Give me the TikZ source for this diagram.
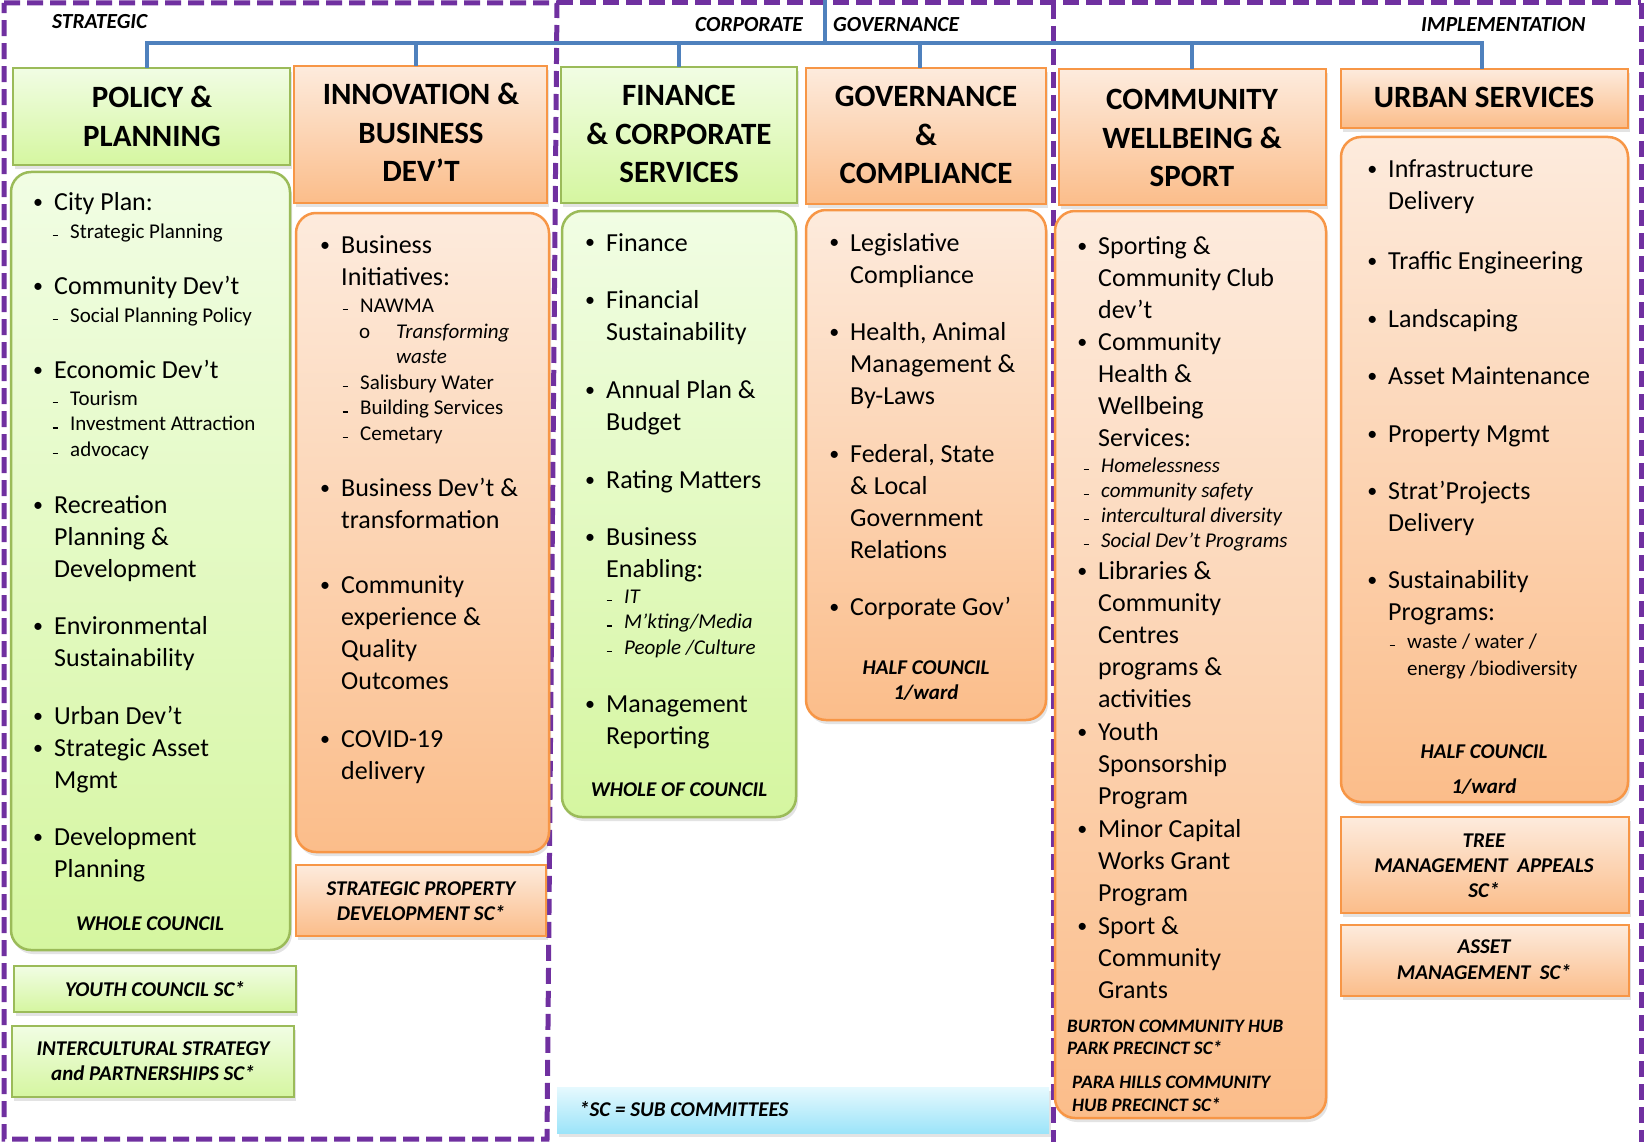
\documentclass[tikz,border=0pt]{standalone}
\usepackage{fontspec}
\setmainfont{Carlito}
\usetikzlibrary{shadows}

\definecolor{purp}{HTML}{7030A0}
\definecolor{busblue}{HTML}{4F81BD}
\definecolor{gT}{RGB}{241,253,228}
\definecolor{gB}{RGB}{213,246,160}
\definecolor{gL}{HTML}{9BBB59}
\definecolor{oT}{RGB}{253,235,221}
\definecolor{oB}{RGB}{251,189,138}
\definecolor{oL}{HTML}{F79646}
\definecolor{bT}{RGB}{230,249,254}
\definecolor{bB}{RGB}{156,228,249}

\newcommand\HdFont{\fontsize{31}{38.5}\selectfont\bfseries}
\newcommand\BdFont{\fontsize{26}{32}\selectfont}
\newcommand\SbFont{\fontsize{21}{25.7}\selectfont}
\newcommand\LbFont{\fontsize{21}{25}\selectfont\bfseries\itshape}
\newcommand\TL[1]{\begin{tabular}[t]{@{}l@{}}#1\end{tabular}}
\newcommand\TC[1]{\begin{tabular}[t]{@{}c@{}}#1\end{tabular}}
\newcommand\Bu{\llap{\raisebox{2pt}{\fontsize{20}{20}\selectfont\textbullet}\hspace{11pt}}}
\newcommand\Da{\llap{\raisebox{2pt}{\rule{5.5pt}{1.4pt}}\hspace{12pt}}}
\newcommand\MkBox[6]{\node[#1, minimum width={(#5-#3)*1pt}, minimum height={(#6-#4)*1pt}] (#2) at (#3,#4) {};}

\tikzset{
  boxbase/.style={anchor=north west, inner sep=0pt, outer sep=0pt, line width=2.5pt,
    drop shadow={opacity=0.22, shadow xshift=2pt, shadow yshift=-4pt}},
  gbox/.style={boxbase, draw=gL, top color=gT, bottom color=gB},
  obox/.style={boxbase, draw=oL, top color=oT, bottom color=oB},
  lbox/.style={boxbase, draw=none, top color=bT, bottom color=bB},
  rnd/.style={rounded corners=20pt},
  frame/.style={draw=purp, line width=5pt, dash pattern=on 16pt off 7pt},
  bus/.style={draw=busblue, line width=4.5pt},
  hd/.style={anchor=base, inner sep=0pt, font=\HdFont},
  bd/.style={anchor=base west, inner sep=0pt, font=\BdFont},
  sb/.style={anchor=base west, inner sep=0pt, font=\SbFont},
  lb/.style={anchor=base, inner sep=0pt, font=\LbFont},
  fr/.style={anchor=base west, inner sep=0pt, font=\fontsize{21.5}{24}\selectfont\bfseries\itshape},
}

\begin{document}
\begin{tikzpicture}[x=1pt,y=-1pt]
\useasboundingbox (0,0) rectangle (1645,1142);
\fill[white] (0,0) rectangle (1645,1142);

% ---- dashed frames ----
\draw[frame] (4,3) -- (557,3) -- (547,1139) -- (4,1139) -- cycle;
\draw[frame] (557,3) -- (1641,3);
\draw[frame] (1053,3) -- (1053,1142);
\draw[frame] (1641,3) -- (1641,1142);

\node[fr] (lStrat) at (52,29) {STRATEGIC};
\node[fr] (lCorp) at (695,32) {CORPORATE};
\node[fr] (lGov) at (833,32) {GOVERNANCE};
\node[fr] (lImpl) at (1421,32) {IMPLEMENTATION};

% ---- header boxes ----
\MkBox{gbox}{hpB}{13}{68}{290}{165}
\MkBox{obox}{hiB}{294}{66}{547}{203}
\MkBox{gbox}{hfB}{561}{67}{797}{203}
\MkBox{obox}{hgB}{806}{68}{1046}{204}
\MkBox{obox}{hcB}{1059}{69}{1326}{205}
\MkBox{obox}{huB}{1341}{69}{1628}{128}

% ---- body boxes ----
\MkBox{gbox,rnd}{pB}{11}{172}{290}{950}
\MkBox{obox,rnd}{iB}{296}{213}{549}{852}
\MkBox{gbox,rnd}{fB}{562}{211}{796}{817}
\MkBox{obox,rnd}{gBx}{806}{210}{1046}{720}
\MkBox{obox,rnd}{cB}{1055}{211}{1326}{1118}
\MkBox{obox,rnd}{uB}{1341}{137}{1628}{802}

% ---- sub-committee boxes ----
\MkBox{obox}{spB}{296}{865}{546}{936}
\MkBox{gbox}{ycB}{14}{966}{296}{1012}
\MkBox{gbox}{isB}{12}{1026}{294}{1097}
\MkBox{obox}{tmB}{1341}{817}{1629}{913}
\MkBox{obox}{amB}{1341}{925}{1629}{996}
\MkBox{lbox}{lgB}{557}{1087}{1049}{1133}

% ---- connector bus ----
\coordinate (busTop) at (825,0);
\coordinate (busJ) at (825,43);
\coordinate (t1) at (147,43);
\coordinate (t2) at (416,43);
\coordinate (t3) at (679,43);
\coordinate (t4) at (920,43);
\coordinate (t5) at (1192,43);
\coordinate (t6) at (1482,43);
\draw[bus] (busTop) -- (busJ);
\draw[bus] (t1 |- hpB.north) -- (t1) -- (t6) -- (t6 |- huB.north);
\draw[bus] (t2) -- (t2 |- hiB.north);
\draw[bus] (t3) -- (t3 |- hfB.north);
\draw[bus] (t4) -- (t4 |- hgB.north);
\draw[bus] (t5) -- (t5 |- hcB.north);

% ---- header texts ----
\node[hd] (hpT) at (152,108) {\TC{POLICY \&\\PLANNING}};
\node[hd] (hiT) at (421,105) {\TC{INNOVATION \&\\BUSINESS\\DEV’T}};
\node[hd] (hfT) at (679,106) {\TC{FINANCE\\\& CORPORATE\\SERVICES}};
\node[hd] (hgT) at (926,107) {\TC{GOVERNANCE\\\&\\COMPLIANCE}};
\node[hd] (hcT) at (1192,110) {\TC{COMMUNITY\\WELLBEING \&\\SPORT}};
\node[hd] (huT) at (1484,108) {URBAN SERVICES};

% ---- Policy & Planning ----
\node[bd] (p1) at (54,211) {\Bu\TL{City Plan:}};
\node[sb] (p1s) at (70,238) {\TL{\Da Strategic Planning}};
\node[bd] (p2) at (54,294) {\Bu\TL{Community Dev’t}};
\node[sb] (p2s) at (70,322) {\TL{\Da Social Planning Policy}};
\node[bd] (p3) at (54,378) {\Bu\TL{Economic Dev’t}};
\node[sb] (p3s) at (70,405) {\TL{\Da Tourism\\\Da Investment Attraction\\\Da advocacy}};
\node[bd] (p4) at (54,513) {\Bu\TL{Recreation\\Planning \&\\Development}};
\node[bd] (p5) at (54,634) {\Bu\TL{Environmental\\Sustainability}};
\node[bd] (p6) at (54,724) {\Bu\TL{Urban Dev’t}};
\node[bd] (p7) at (54,756) {\Bu\TL{Strategic Asset\\Mgmt}};
\node[bd] (p8) at (54,845) {\Bu\TL{Development\\Planning}};
\node[lb] (pW) at (150,930) {WHOLE COUNCIL};
\node[lb] (ycT) at (155,996) {YOUTH COUNCIL SC*};
\node[lb] (isT) at (153,1055) {\TC{INTERCULTURAL STRATEGY\\and PARTNERSHIPS SC*}};

% ---- Innovation & Business Dev't ----
\node[bd] (i1) at (341,253) {\Bu\TL{Business\\Initiatives:}};
\node[sb] (i1s) at (360,312) {\TL{\Da NAWMA}};
\node[sb] (i1o) at (396,338) {\TL{\llap{o\hspace{26pt}}\itshape Transforming\\\itshape waste}};
\node[sb] (i1t) at (360,389) {\TL{\Da Salisbury Water\\\Da Building Services\\\Da Cemetary}};
\node[bd] (i2) at (341,496) {\Bu\TL{Business Dev’t \&\\transformation}};
\node[bd] (i3) at (341,593) {\Bu\TL{Community\\experience \&\\Quality\\Outcomes}};
\node[bd] (i4) at (341,747) {\Bu\TL{COVID-19\\delivery}};
\node[lb] (spT) at (421,895) {\TC{STRATEGIC PROPERTY\\DEVELOPMENT SC*}};

% ---- Finance & Corporate Services ----
\node[bd] (f1) at (606,251) {\Bu\TL{Finance}};
\node[bd] (f2) at (606,308) {\Bu\TL{Financial\\Sustainability}};
\node[bd] (f3) at (606,398) {\Bu\TL{Annual Plan \&\\Budget}};
\node[bd] (f4) at (606,488) {\Bu\TL{Rating Matters}};
\node[bd] (f5) at (606,545) {\Bu\TL{Business\\Enabling:}};
\node[sb] (f5s) at (624,603) {\TL{\Da\itshape IT\\\Da\itshape M’kting/Media\\\Da\itshape People /Culture}};
\node[bd] (f6) at (606,712) {\Bu\TL{Management\\Reporting}};
\node[lb] (fW) at (679,796) {WHOLE OF COUNCIL};

% ---- Governance & Compliance ----
\node[bd] (g1) at (850,251) {\Bu\TL{Legislative\\Compliance}};
\node[bd] (g2) at (850,340) {\Bu\TL{Health, Animal\\Management \&\\By-Laws}};
\node[bd] (g3) at (850,462) {\Bu\TL{Federal, State\\\& Local\\Government\\Relations}};
\node[bd] (g4) at (850,615) {\Bu\TL{Corporate Gov’}};
\node[lb] (gH) at (926,674) {\TC{HALF COUNCIL\\1/ward}};

% ---- Community Wellbeing & Sport ----
\node[bd] (c1) at (1098,254) {\Bu\TL{Sporting \&\\Community Club\\dev’t}};
\node[bd] (c2) at (1098,350) {\Bu\TL{Community\\Health \&\\Wellbeing\\Services:}};
\node[sb] (c2s) at (1101,472) {\fontsize{21}{25}\selectfont\TL{\Da\itshape Homelessness\\\Da\itshape community safety\\\Da\itshape intercultural diversity\\\Da\itshape Social Dev’t Programs}};
\node[bd] (c3) at (1098,579) {\Bu\TL{Libraries \&\\Community\\Centres\\programs \&\\activities}};
\node[bd] (c4) at (1098,740) {\Bu\TL{Youth\\Sponsorship\\Program}};
\node[bd] (c5) at (1098,837) {\Bu\TL{Minor Capital\\Works Grant\\Program}};
\node[bd] (c6) at (1098,934) {\Bu\TL{Sport \&\\Community\\Grants}};
\node[anchor=base west, inner sep=0pt, font=\fontsize{19}{22.5}\selectfont\bfseries\itshape] (cBur) at (1067,1032) {\TL{BURTON COMMUNITY HUB\\PARK PRECINCT SC*}};
\node[anchor=base west, inner sep=0pt, font=\fontsize{19}{23}\selectfont\bfseries\itshape] (cPara) at (1072,1088) {\TL{PARA HILLS COMMUNITY\\HUB PRECINCT SC*}};

% ---- Urban Services ----
\node[bd] (u1) at (1388,178) {\Bu\TL{Infrastructure\\Delivery}};
\node[bd] (u2) at (1388,269) {\Bu\TL{Traffic Engineering}};
\node[bd] (u3) at (1388,327) {\Bu\TL{Landscaping}};
\node[bd] (u4) at (1388,384) {\Bu\TL{Asset Maintenance}};
\node[bd] (u5) at (1388,442) {\Bu\TL{Property Mgmt}};
\node[bd] (u6) at (1388,499) {\Bu\TL{Strat’Projects\\Delivery}};
\node[bd] (u7) at (1388,588) {\Bu\TL{Sustainability\\Programs:}};
\node[sb] (u7s) at (1407,648) {\fontsize{21}{27}\selectfont\TL{\Da waste / water /\\energy /biodiversity}};
\node[anchor=base, inner sep=0pt, font=\fontsize{21}{35}\selectfont\bfseries\itshape] (uH) at (1484,758) {\TC{HALF COUNCIL\\1/ward}};
\node[lb] (tmT) at (1484,847) {\TC{TREE\\MANAGEMENT~~APPEALS\\SC*}};
\node[anchor=base, inner sep=0pt, font=\fontsize{21}{26}\selectfont\bfseries\itshape] (amT) at (1484,953) {\TC{ASSET\\MANAGEMENT~~SC*}};

% ---- legend ----
\node[anchor=base west, inner sep=0pt, font=\LbFont] (lgT) at (579,1116) {*SC = SUB COMMITTEES};
\end{tikzpicture}
\end{document}
